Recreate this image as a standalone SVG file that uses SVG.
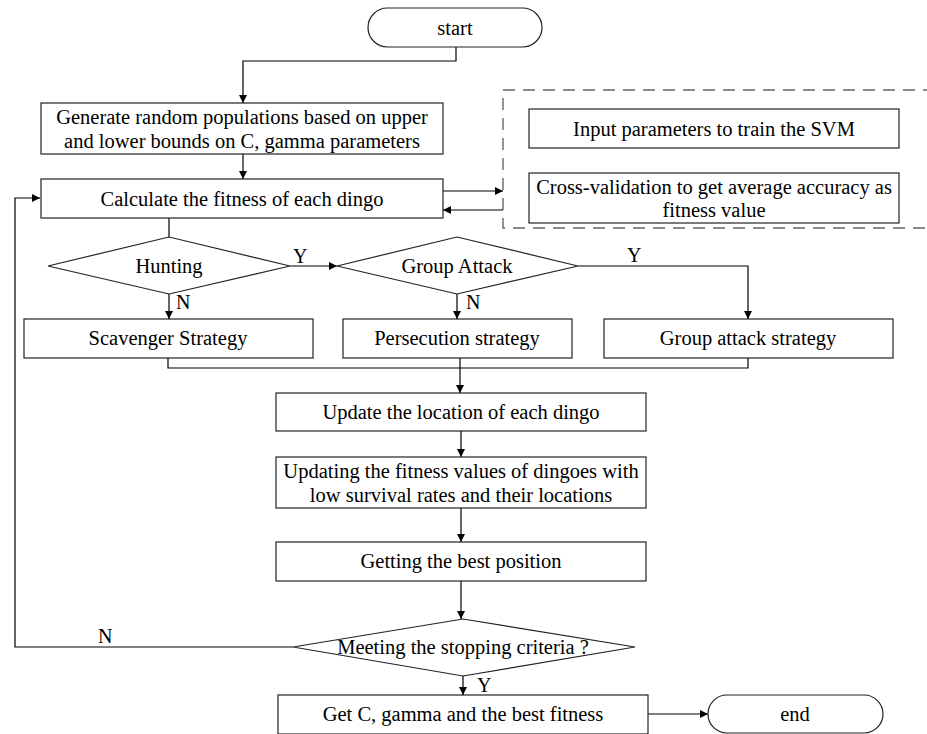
<svg xmlns="http://www.w3.org/2000/svg" width="927" height="734" viewBox="0 0 927 734">
<defs>
<marker id="arr" viewBox="0 0 10 10" refX="10" refY="5" markerWidth="8" markerHeight="8" markerUnits="userSpaceOnUse" orient="auto">
<path d="M0,0 L10,5 L0,10 z" fill="#000"/>
</marker>
</defs>
<style>
.box{fill:#fff;stroke:#222;stroke-width:1.2}
.t{font-family:"Liberation Serif","Times New Roman",serif;font-size:20.5px;fill:#000;text-anchor:middle;dominant-baseline:central}
.l{font-family:"Liberation Serif","Times New Roman",serif;font-size:20px;fill:#000}
.c{fill:none;stroke:#000;stroke-width:1.2}
.a{fill:none;stroke:#000;stroke-width:1.2;marker-end:url(#arr)}
.dash{fill:none;stroke:#666;stroke-width:1.4;stroke-dasharray:12 8}
</style>
<rect width="927" height="734" fill="#fff"/>

<g id="svm-group">
<path class="dash" d="M935,90 L503,90 L503,228 L935,228"/>
</g>

<g id="connectors">
<path class="a" d="M456,47 L456,61 L243,61 L243,103"/>
<path class="a" d="M243,154 L243,179"/>
<path class="a" d="M443,191 L503,191"/>
<path class="a" d="M503,210 L443,210"/>
<path class="c" d="M169,218 L169,237"/>
<path class="a" d="M290,266 L337,266"/>
<path class="a" d="M169,294 L169,319"/>
<path class="a" d="M457,294 L457,319"/>
<path class="a" d="M578,266 L748,266 L748,319"/>
<path class="c" d="M168,358 L168,368 L748,368 L748,358"/>
<path class="a" d="M460,358 L460,393"/>
<path class="a" d="M461,431 L461,457"/>
<path class="a" d="M461,508 L461,542"/>
<path class="a" d="M461,581 L461,619"/>
<path class="a" d="M293,647 L15,647 L15,198 L40,198"/>
<path class="a" d="M463,676 L463,695"/>
<path class="a" d="M648,714 L708,714"/>
<text class="l" x="293" y="263">Y</text>
<text class="l" x="176" y="309">N</text>
<text class="l" x="627" y="262">Y</text>
<text class="l" x="466" y="309">N</text>
<text class="l" x="98" y="643">N</text>
<text class="l" x="477" y="692">Y</text>
</g>

<g id="start">
<rect class="box" x="368" y="8" width="174" height="39" rx="19.5"/>
<text class="t" x="455" y="27.5">start</text>
</g>

<g id="generate">
<rect class="box" x="41" y="103" width="402" height="51"/>
<text class="t" x="242" y="117">Generate random populations based on upper</text>
<text class="t" x="242" y="141">and lower bounds on C, gamma parameters</text>
</g>

<g id="calculate">
<rect class="box" x="41" y="179" width="402" height="39"/>
<text class="t" x="242" y="199">Calculate the fitness of each dingo</text>
</g>

<g id="input-svm">
<rect class="box" x="529" y="109" width="370" height="39"/>
<text class="t" x="714" y="129">Input parameters to train the SVM</text>
</g>

<g id="cross-validation">
<rect class="box" x="529" y="173" width="370" height="50"/>
<text class="t" x="714" y="187">Cross-validation to get average accuracy as</text>
<text class="t" x="714" y="210">fitness value</text>
</g>

<g id="hunting">
<polygon class="box" points="48,266 169,237 290,266 169,294"/>
<text class="t" x="169" y="266">Hunting</text>
</g>

<g id="group-attack">
<polygon class="box" points="337,266 457,237 578,266 457,294"/>
<text class="t" x="457" y="266">Group Attack</text>
</g>

<g id="scavenger">
<rect class="box" x="24" y="319" width="289" height="39"/>
<text class="t" x="168" y="338">Scavenger Strategy</text>
</g>

<g id="persecution">
<rect class="box" x="343" y="319" width="229" height="39"/>
<text class="t" x="457" y="338">Persecution strategy</text>
</g>

<g id="group-attack-strategy">
<rect class="box" x="604" y="319" width="289" height="39"/>
<text class="t" x="748" y="338">Group attack strategy</text>
</g>

<g id="update-location">
<rect class="box" x="276" y="393" width="370" height="38"/>
<text class="t" x="461" y="412">Update the location of each dingo</text>
</g>

<g id="update-fitness">
<rect class="box" x="276" y="457" width="370" height="51"/>
<text class="t" x="461" y="471">Updating the fitness values of dingoes with</text>
<text class="t" x="461" y="495">low survival rates and their locations</text>
</g>

<g id="best-position">
<rect class="box" x="276" y="542" width="370" height="39"/>
<text class="t" x="461" y="561">Getting the best position</text>
</g>

<g id="stopping">
<polygon class="box" points="293,647 463,619 635,647 463,676"/>
<text class="t" x="463" y="647">Meeting the stopping criteria ?</text>
</g>

<g id="result">
<rect class="box" x="278" y="695" width="370" height="39"/>
<text class="t" x="463" y="714">Get C, gamma and the best fitness</text>
</g>

<g id="end">
<rect class="box" x="708" y="695" width="175" height="38" rx="19"/>
<text class="t" x="795" y="714">end</text>
</g>
</svg>
